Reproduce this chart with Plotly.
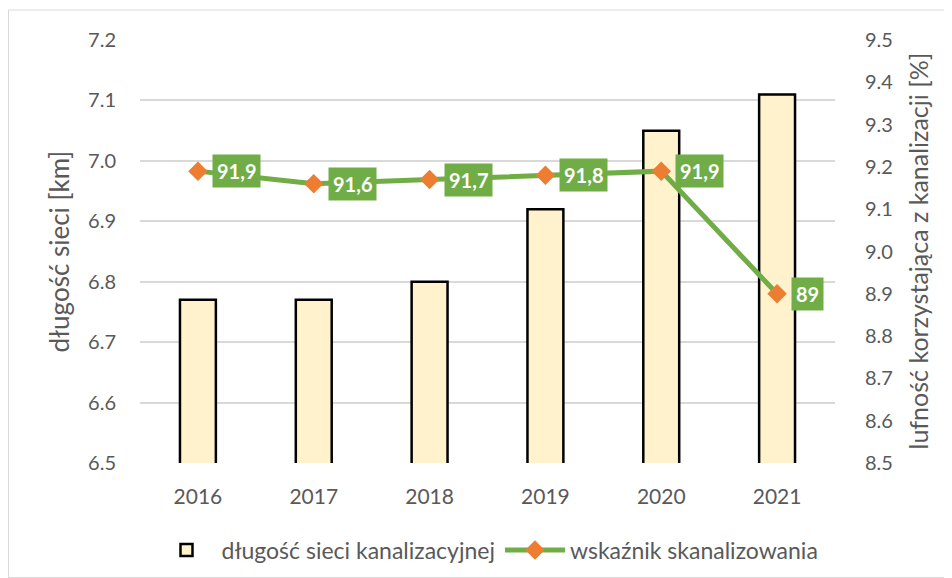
import plotly.graph_objects as go

years = ["2016", "2017", "2018", "2019", "2020", "2021"]
dlugosc = [6.77, 6.77, 6.80, 6.92, 7.05, 7.11]
wskaznik = [9.19, 9.16, 9.17, 9.18, 9.19, 8.90]
etykiety = ["91,9", "91,6", "91,7", "91,8", "91,9", "89"]
tytul_lewy = "długość sieci [km]"
tytul_prawy = "lufność korzystająca z kanalizacji [%]"

FONT = "Lato"
GRAY = "#595959"
W, H = 944, 570
ML, MR, MT, MB = 132, 117, 32, 115
pw = W - ML - MR
ph = H - MT - MB

fig = go.Figure()
fig.add_trace(go.Bar(
    x=years, y=dlugosc, name="długość sieci kanalizacyjnej",
    marker=dict(color="#FFF2CC", line=dict(color="black", width=2.5)),
    width=0.31, yaxis="y",
))
fig.add_trace(go.Scatter(
    x=years, y=wskaznik, name="wskaźnik skanalizowania", yaxis="y2",
    mode="lines+markers",
    line=dict(color="#70AD47", width=5),
    marker=dict(symbol="diamond", size=15, color="#ED7D31"),
))

for i, (v, t) in enumerate(zip(wskaznik, etykiety)):
    fig.add_annotation(
        x=i, y=v, xref="x", yref="y2", text="<b>%s</b>" % t, showarrow=False,
        xanchor="left", xshift=14, bgcolor="#70AD47", borderpad=4,
        font=dict(family=FONT, size=20, color="white"),
    )

# axis titles
fig.add_annotation(
    x=(50 - ML) / pw, y=0.5, xref="paper", yref="paper", text=tytul_lewy,
    textangle=-90, showarrow=False, xanchor="center", yanchor="middle",
    font=dict(family=FONT, size=26, color=GRAY),
)
fig.add_annotation(
    x=(909 - ML) / pw, y=0.5, xref="paper", yref="paper", text=tytul_prawy,
    textangle=-90, showarrow=False, xanchor="center", yanchor="middle",
    font=dict(family=FONT, size=25, color=GRAY),
)

fig.add_shape(
    type="rect", xref="paper", yref="paper",
    x0=(0.5 - ML) / pw, x1=(W - 0.5 - ML) / pw,
    y0=(H - MB - H + 0.5) / ph, y1=(H - MB - 2) / ph,
    line=dict(color="#D9D9D9", width=1), layer="below",
)

fig.update_layout(
    width=W, height=H,
    margin=dict(l=ML, r=MR, t=MT, b=MB, autoexpand=False),
    paper_bgcolor="white", plot_bgcolor="white",
    font=dict(family=FONT, size=20, color=GRAY),
    showlegend=True,
    legend=dict(orientation="h", x=0.5, xanchor="center", y=-0.155, yanchor="top",
                font=dict(family=FONT, size=23, color=GRAY), itemwidth=60),
    bargap=0.69,
    xaxis=dict(type="category", range=[-0.5, len(years) - 0.5], automargin=False,
               showline=False, ticks="", ticklabelstandoff=19,
               tickfont=dict(size=21, color=GRAY)),
    yaxis=dict(range=[6.5, 7.2], dtick=0.1, tickformat=".1f", automargin=False,
               showgrid=True, gridcolor="#D9D9D9", gridwidth=1.5,
               zeroline=False, showline=False, ticks="", ticklabelstandoff=23,
               tickfont=dict(size=20, color=GRAY)),
    yaxis2=dict(range=[8.5, 9.5], dtick=0.1, tickformat=".1f", automargin=False,
                overlaying="y", side="right", showgrid=False, zeroline=False,
                showline=False, ticks="", ticklabelstandoff=29,
                tickfont=dict(size=20, color=GRAY)),
)

fig.write_html("out.html")
